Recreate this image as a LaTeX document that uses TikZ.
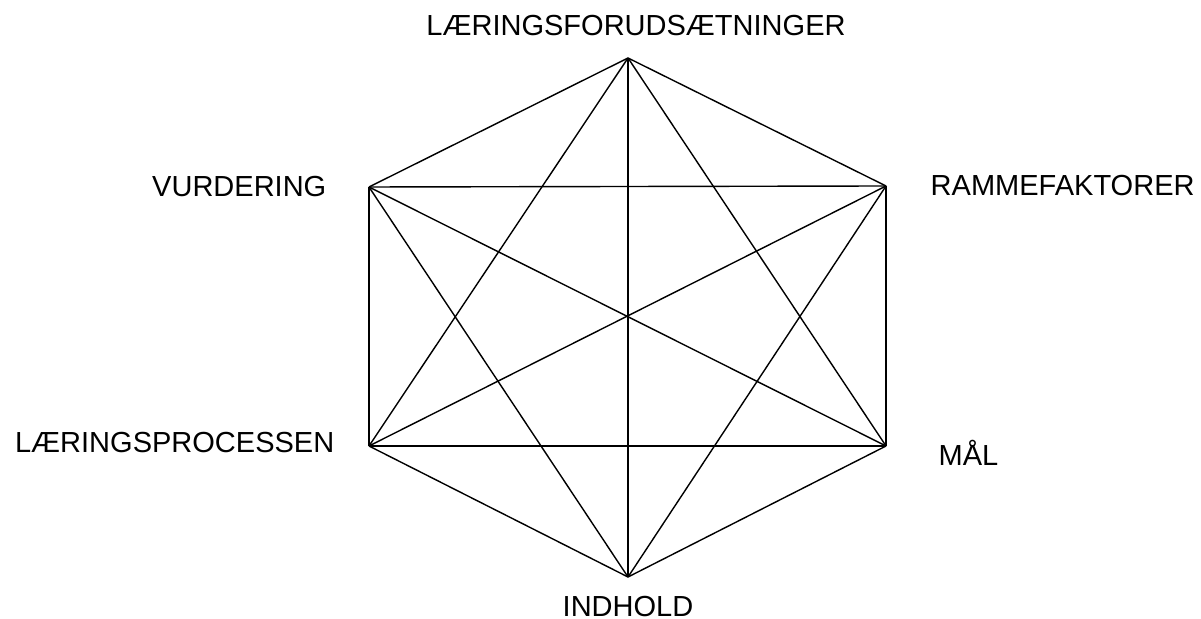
\documentclass[tikz,border=0pt]{standalone}
\usepackage{fontspec}
\setmainfont{Liberation Sans}
\begin{document}
\begin{tikzpicture}[x=0.01cm,y=-0.01cm,
  lbl/.style={inner sep=0pt,font=\fontsize{8.25}{10}\selectfont},
  edge/.style={draw=black,line width=0.4pt}]
\useasboundingbox (0,0) rectangle (1201,619);
\coordinate (T) at (628,58);
\coordinate (UR) at (886,186);
\coordinate (LR) at (886,446);
\coordinate (B) at (628,577);
\coordinate (LL) at (369,446);
\coordinate (UL) at (369,187);
\foreach \a/\b in {T/UR,T/LR,T/B,T/LL,T/UL,UR/LR,UR/B,UR/LL,UR/UL,LR/B,LR/LL,LR/UL,B/LL,B/UL,LL/UL}
  \draw[edge] (\a) -- (\b);
\node[lbl] (lt) at (636,26) {LÆRINGSFORUDSÆTNINGER};
\node[lbl,anchor=east] (lul) at (327,187) {VURDERING};
\node[lbl,anchor=west] (lur) at (930,186) {RAMMEFAKTORER};
\node[lbl,anchor=east] (lll) at (335,443) {LÆRINGSPROCESSEN};
\node[lbl,anchor=west] (llr) at (938,453) {MÅL};
\node[lbl] (lb) at (628,607) {INDHOLD};
\end{tikzpicture}
\end{document}
